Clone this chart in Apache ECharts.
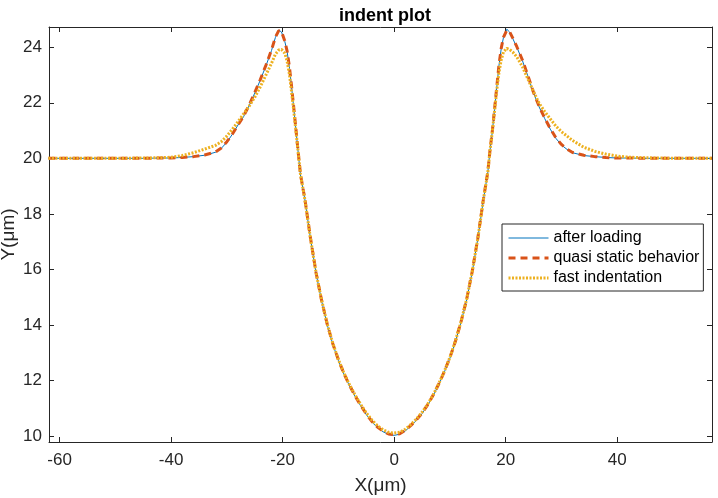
<!DOCTYPE html>
<html>
<head>
<meta charset="utf-8">
<script src="https://cdn.jsdelivr.net/npm/echarts@6/dist/echarts.min.js"></script>
<style>html,body{margin:0;padding:0;background:#fff;}#c{width:718px;height:498px;}</style>
</head>
<body>
<div id="c"></div>
<script>
const xs = [-62, -50, -45, -42, -40, -38, -36, -34, -32, -31,
 -30, -29, -28, -27, -26, -25, -24, -23, -22, -21.3,
 -20.7, -20.2, -19.6, -19.2, -18.8, -18.4, -18, -17.6, -17.2, -16.8,
 -16, -15, -14, -13, -12, -11, -10, -9, -8, -7,
 -6, -5, -4, -3, -2, -1, 0, 1, 2, 3,
 4, 5, 6, 7, 8, 9, 10, 11, 12, 13,
 14, 15, 16, 16.8, 17.2, 17.6, 18, 18.4, 18.8, 19.2,
 19.6, 20.2, 20.7, 21.3, 22, 23, 24, 25, 26, 27,
 28, 29, 30, 31, 32, 34, 36, 38, 40, 42,
 45, 50, 57];

const afterLoading = [20, 20, 20, 20.01, 20.01, 20.03, 20.06, 20.11, 20.22, 20.36,
 20.58, 20.87, 21.2, 21.5, 21.9, 22.35, 22.82, 23.33, 23.88, 24.35,
 24.62, 24.55, 24.2, 23.85, 23.3, 22.58, 21.8, 21.0, 20.18, 19.4,
 18.5, 17.1, 15.85, 14.85, 14.0, 13.3, 12.72, 12.22, 11.8, 11.42,
 11.08, 10.77, 10.5, 10.3, 10.15, 10.05, 10.02, 10.06, 10.18, 10.36,
 10.56, 10.8, 11.1, 11.45, 11.85, 12.3, 12.8, 13.4, 14.1, 14.9,
 15.9, 17.1, 18.5, 19.5, 20.3, 20.95, 21.75, 22.55, 23.35, 23.95,
 24.35, 24.65, 24.55, 24.3, 24.0, 23.52, 22.95, 22.35, 21.85, 21.43,
 21.05, 20.72, 20.48, 20.32, 20.2, 20.1, 20.06, 20.03, 20.01, 20.01,
 20, 20, 20];

const quasiStatic = [20, 20, 20, 20.01, 20.01, 20.03, 20.06, 20.12, 20.23, 20.37,
 20.6, 20.88, 21.2, 21.52, 21.92, 22.37, 22.84, 23.35, 23.9, 24.36,
 24.6, 24.56, 24.22, 23.86, 23.32, 22.6, 21.82, 21.02, 20.2, 19.42,
 18.52, 17.12, 15.87, 14.87, 14.02, 13.32, 12.74, 12.24, 11.82, 11.44,
 11.1, 10.79, 10.52, 10.32, 10.17, 10.07, 10.04, 10.08, 10.2, 10.38,
 10.58, 10.82, 11.12, 11.47, 11.87, 12.32, 12.82, 13.42, 14.12, 14.92,
 15.92, 17.12, 18.52, 19.52, 20.32, 20.97, 21.77, 22.57, 23.37, 23.96,
 24.36, 24.62, 24.56, 24.32, 24.02, 23.54, 22.97, 22.37, 21.87, 21.45,
 21.07, 20.74, 20.5, 20.33, 20.21, 20.11, 20.06, 20.03, 20.01, 20.01,
 20, 20, 20];

const fastIndentation = [20, 20, 20.01, 20.02, 20.04, 20.1, 20.2, 20.33, 20.47, 20.6,
 20.8, 21.05, 21.32, 21.6, 21.88, 22.2, 22.58, 23.0, 23.42, 23.75,
 23.9, 23.92, 23.78, 23.5, 23.05, 22.4, 21.7, 20.95, 20.2, 19.42,
 18.5, 17.1, 15.87, 14.88, 14.03, 13.33, 12.75, 12.26, 11.84, 11.47,
 11.13, 10.83, 10.57, 10.37, 10.22, 10.13, 10.1, 10.13, 10.24, 10.41,
 10.61, 10.85, 11.14, 11.48, 11.88, 12.33, 12.83, 13.43, 14.12, 14.92,
 15.92, 17.1, 18.5, 19.5, 20.3, 20.95, 21.7, 22.45, 23.1, 23.55,
 23.83, 23.96, 23.92, 23.82, 23.65, 23.3, 22.85, 22.4, 21.98, 21.68,
 21.42, 21.16, 20.96, 20.8, 20.64, 20.4, 20.25, 20.15, 20.08, 20.04,
 20.02, 20, 20];

const xTicks = [-60, -40, -20, 0, 20, 40];
const yTicks = [10, 12, 14, 16, 18, 20, 22, 24];
const seriesNames = ['after loading', 'quasi static behavior', 'fast indentation'];

const pairs = ys => xs.map((x, i) => [x, ys[i]]);
const FONT = '"Liberation Sans", Arial, Helvetica, sans-serif';
const AX = '#262626';
const XMIN = -61.9, XMAX = 57, YMIN = 9.78, YMAX = 24.73;
const COLORS = ['#0072BD', '#D95319', '#EDB120'];
const STYLES = [
  { color: COLORS[0], width: 1, type: 'solid' },
  { color: COLORS[1], width: 3, type: [7, 5] },
  { color: COLORS[2], width: 3, type: [2, 1.5] }
];

function xAx(pos, show) {
  return {
    type: 'value', position: pos, min: XMIN, max: XMAX,
    name: show ? 'X(μm)' : '', nameLocation: 'middle', nameGap: 34, nameMoveOverlap: false,
    nameTextStyle: { fontFamily: FONT, fontSize: 19, color: AX },
    axisLine: { show: true, onZero: false, lineStyle: { color: AX, width: 1 } },
    axisTick: { show: true, inside: true, length: 5, customValues: xTicks, lineStyle: { color: AX } },
    axisLabel: { show: show, customValues: xTicks, margin: 10, fontFamily: FONT, fontSize: 17, color: AX },
    splitLine: { show: false }
  };
}
function yAx(pos, show) {
  return {
    type: 'value', position: pos, min: YMIN, max: YMAX,
    name: show ? 'Y(μm)' : '', nameLocation: 'middle', nameGap: 31, nameRotate: 90, nameMoveOverlap: false,
    nameTextStyle: { fontFamily: FONT, fontSize: 19, color: AX },
    axisLine: { show: true, onZero: false, lineStyle: { color: AX, width: 1 } },
    axisTick: { show: true, inside: true, length: 5, customValues: yTicks, lineStyle: { color: AX } },
    axisLabel: { show: show, customValues: yTicks, margin: 7, fontFamily: FONT, fontSize: 17, color: AX },
    splitLine: { show: false }
  };
}

const chart = echarts.init(document.getElementById('c'), null, { renderer: 'canvas' });
chart.setOption({
  animation: false,
  backgroundColor: '#fff',
  title: {
    text: 'indent plot', left: 380, top: 2, textAlign: 'center',
    textStyle: { fontFamily: FONT, fontSize: 18, fontWeight: 'bold', color: '#000' }
  },
  grid: { left: 49, right: 6, top: 27, bottom: 56, containLabel: false, outerBoundsMode: 'none' },
  xAxis: [xAx('bottom', true), xAx('top', false)],
  yAxis: [yAx('left', true), yAx('right', false)],
  legend: {
    orient: 'vertical', left: 502, top: 224,
    data: seriesNames.map((n, i) => ({ name: n, lineStyle: STYLES[i], itemStyle: { opacity: 0 } })),
    itemWidth: 40, itemHeight: 14, itemGap: 4,
    padding: [6, 4, 5, 5],
    borderColor: AX, borderWidth: 1, backgroundColor: '#fff', borderRadius: 0,
    itemStyle: { opacity: 0 },
    textStyle: { fontFamily: FONT, fontSize: 16, color: '#000' }
  },
  series: seriesNames.map((n, i) => ({
    name: n, type: 'line',
    data: pairs([afterLoading, quasiStatic, fastIndentation][i]),
    showSymbol: false, symbol: 'none',
    lineStyle: STYLES[i], itemStyle: { color: COLORS[i] }
  }))
});
</script>
</body>
</html>
